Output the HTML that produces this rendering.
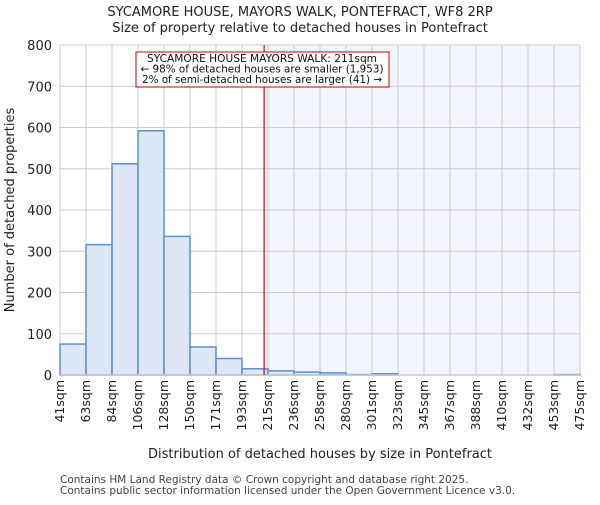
<!DOCTYPE html>
<html><head><meta charset="utf-8"><style>body{margin:0;background:#fff}svg{font-family:"DejaVu Sans","Liberation Sans",sans-serif}</style></head><body>
<svg id="c" width="600" height="500"></svg>
<script>
const binLabels=["41sqm","63sqm","84sqm","106sqm","128sqm","150sqm","171sqm","193sqm","215sqm","236sqm","258sqm","280sqm","301sqm","323sqm","345sqm","367sqm","388sqm","410sqm","432sqm","453sqm","475sqm"];
const counts=[75,316,512,592,336,68,40,15,10,7,5,1,3,0,0,0,0,0,0,1];
const yTicks=[0,100,200,300,400,500,600,700,800];
const markerBin=7.85;
const NS="http://www.w3.org/2000/svg",svg=document.getElementById('c');
const X0=60,X1=580,Y0=375,Y1=45,yMax=800;
const bw=(X1-X0)/counts.length;
const xs=i=>X0+i*bw, ys=v=>Y0-(v/yMax)*(Y0-Y1);
function el(t,a,txt){const e=document.createElementNS(NS,t);for(const k in a)e.setAttribute(k,a[k]);if(txt!=null)e.textContent=txt;svg.appendChild(e);return e;}
let e;
const mx=xs(markerBin);
e=el('rect',{x:mx,y:Y1,width:X1-mx,height:Y0-Y1,fill:'#f2f5fd'});

for(let i=0;i<=counts.length;i++){e=el('line',{x1:xs(i),x2:xs(i),y1:Y1,y2:Y0,stroke:'#cccccc'});}
yTicks.forEach(t=>{e=el('line',{x1:X0,x2:X1,y1:ys(t),y2:ys(t),stroke:'#cccccc'});
e=el('text',{x:X0-8,y:ys(t)+5,'text-anchor':'end','font-size':13,fill:'#222'},t);});
counts.forEach((v,i)=>{if(v<=0)return;e=el('rect',{x:xs(i),y:ys(v),width:bw,height:Y0-ys(v),fill:'#dee7f5',stroke:'#5b8fd6','stroke-width':1.5});});
binLabels.forEach((l,i)=>{const x=xs(i)+4;e=el('text',{x:0,y:0,transform:`translate(${x},380) rotate(-90)`,'text-anchor':'end','font-size':12.5,fill:'#222'},l);});
e=el('line',{x1:X0,x2:X1,y1:Y0,y2:Y0,stroke:'#cccccc','stroke-width':1.5});
e=el('line',{x1:mx,x2:mx,y1:Y1,y2:Y0,stroke:'#cc0000','stroke-width':1.2});
e=el('rect',{x:136,y:52,width:253,height:35,fill:'#fff',stroke:'#cc0000'});
["SYCAMORE HOUSE MAYORS WALK: 211sqm","← 98% of detached houses are smaller (1,953)","2% of semi-detached houses are larger (41) →"].forEach((t,i)=>{e=el('text',{x:262,y:62+i*10.5,'text-anchor':'middle','font-size':10.6,fill:'#111',textLength:i==0?230:(i==1?243:240),lengthAdjust:'spacingAndGlyphs'},t);});
e=el('text',{x:300,y:16,'text-anchor':'middle','font-size':13,fill:'#222'},"SYCAMORE HOUSE, MAYORS WALK, PONTEFRACT, WF8 2RP");
e=el('text',{x:300,y:32,'text-anchor':'middle','font-size':13,fill:'#222'},"Size of property relative to detached houses in Pontefract");
e=el('text',{x:0,y:0,transform:'translate(14,210) rotate(-90)','text-anchor':'middle','font-size':13,fill:'#222'},"Number of detached properties");
e=el('text',{x:320,y:458,'text-anchor':'middle','font-size':13,fill:'#222'},"Distribution of detached houses by size in Pontefract");
e=el('text',{x:60,y:483,'font-size':10.5,fill:'#444'},"Contains HM Land Registry data © Crown copyright and database right 2025.");
e=el('text',{x:60,y:494,'font-size':10.5,fill:'#444'},"Contains public sector information licensed under the Open Government Licence v3.0.");
</script></body></html>
